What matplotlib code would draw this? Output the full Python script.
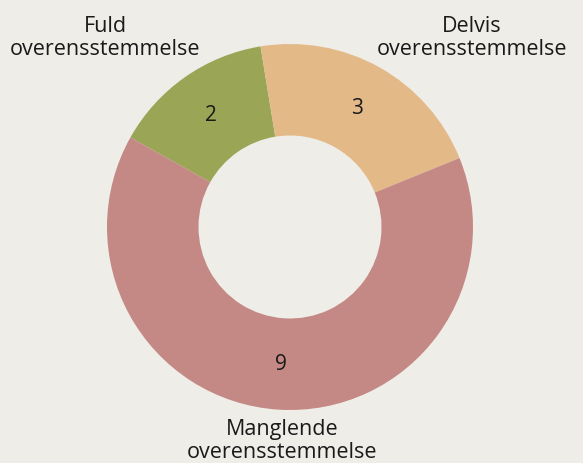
import matplotlib
matplotlib.use("Agg")
import matplotlib.pyplot as plt

categories = ["Fuld\noverensstemmelse", "Delvis\noverensstemmelse", "Manglende\noverensstemmelse"]
values = [2, 3, 9]
colors = ["#9BA556", "#E3B988", "#C48985"]
bg = "#EEEDE8"

plt.rcParams['font.family'] = ['Open Sans', 'DejaVu Sans']

fig = plt.figure(figsize=(5.83, 4.64), dpi=100, facecolor=bg)
ax = fig.add_axes([0, 0, 1, 1])
ax.set_facecolor(bg)

cx, cy, R = 290, 464 - 228, 183
wedges, _, autotexts = ax.pie(values, colors=colors, startangle=150.7, counterclock=False,
                              center=(cx, cy), radius=R, autopct=lambda p: f"{round(p*sum(values)/100):d}",
                              pctdistance=0.75, wedgeprops=dict(width=R*0.5, linewidth=0),
                              textprops=dict(fontsize=15, color="#1a1a1a"), frame=True)
ax.set_xlim(0, 583)
ax.set_ylim(0, 464)
ax.set_aspect('equal')
ax.axis('off')

label_pos = [(105, 464 - 38), (472, 464 - 38), (282, 464 - 441)]
for lab, (x, y) in zip(categories, label_pos):
    ax.text(x, y, lab, ha='center', va='center', fontsize=15.5, color="#1a1a1a", linespacing=1.15)

fig.savefig("out.png", dpi=100, facecolor=bg)
